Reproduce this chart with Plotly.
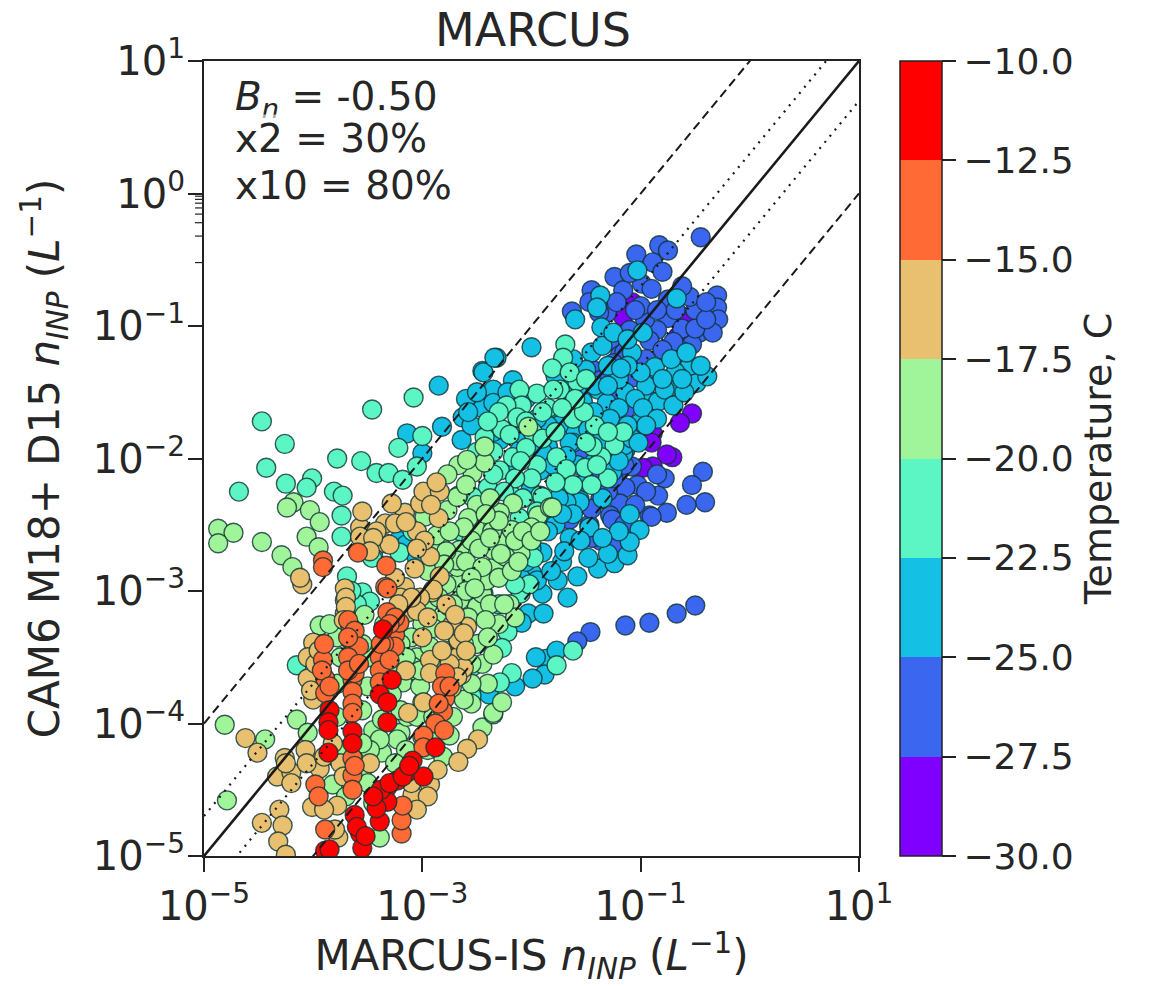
import math
import plotly.graph_objects as go

# Values, as log10 of n_INP (L^-1)
bin_temps = [-28.75, -26.25, -23.75, -21.25, -18.75, -16.25, -13.75, -11.25]
level_edges = [-30, -27.5, -25, -22.5, -20, -17.5, -15, -12.5, -10]
level_colors = ["#7f00ff", "#3a66f0", "#14c0e4", "#5cf5c4", "#a0f59a", "#e8c070", "#ff6a35", "#ff0000"]
x_ticks = [1e-5, 1e-3, 1e-1, 1e1]
x_labels = ["10<sup>\u22125</sup>", "10<sup>\u22123</sup>", "10<sup>\u22121</sup>", "10<sup>1</sup>"]
y_ticks = [1e-5, 1e-4, 1e-3, 1e-2, 1e-1, 1, 10]
y_labels = ["10<sup>\u22125</sup>", "10<sup>\u22124</sup>", "10<sup>\u22123</sup>", "10<sup>\u22122</sup>", "10<sup>\u22121</sup>", "10<sup>0</sup>", "10<sup>1</sup>"]
y_minor = [m * d for d in [1e-5, 1e-4, 1e-3, 1e-2, 1e-1, 1] for m in [2, 3, 4, 5, 6, 7, 8, 9]]

lx_purple = [-1.08,-1.16,-0.61,-0.57,-0.66,-0.53,-0.64,-0.89,-0.90,-0.71,-0.76,-0.89,-0.98]
ly_purple = [-0.82,-0.93,-0.93,-0.97,-1.08,-1.66,-1.73,-1.81,-1.88,-1.99,-1.97,-2.06,-2.07]

lx_blue = [-0.45,-0.83,-0.75,-1.04,-0.89,-0.80,-1.24,-0.99,-1.45,-1.16,-1.63,-0.30,-0.30,-0.50,-0.29,-0.46,-0.34,-0.53,-0.75,-0.85,-0.76,-1.31,-1.47,-1.22,-0.99,-1.08,-1.44,-0.96,-1.10,-0.92,-0.64,-1.28,-1.19,-1.37,-1.26,-1.14,
           -0.43,-0.53,-0.41,-0.58,-0.78,-0.84,-1.03,-1.14,-1.19,-0.92,-1.28,-0.76,-1.08,-0.90,-1.24,-1.26,-1.65,-1.37,-1.47,-1.37,-1.56,-1.19,-1.37,-1.14,
           -0.50,-0.67,-0.92,-1.14,-1.46,-1.58,
           -1.00,-0.90,-1.10,-0.75,-0.55,-0.62,-0.70,-0.50,-0.80,-0.95,-1.15,-1.25,-0.88,-1.30,-1.15,-1.25,-0.95,-1.45,-1.55,-1.05,-1.15,-1.45,-0.85,-1.40,-1.25,-1.55,
           -1.38,-1.05,-0.68,-0.85,-0.62,-0.40,-0.40]
ly_blue = [-0.33,-0.39,-0.43,-0.46,-0.52,-0.59,-0.63,-0.68,-0.73,-0.73,-0.89,-0.77,-0.86,-0.88,-0.95,-1.05,-1.05,-1.14,-0.94,-1.03,-1.20,-0.90,-0.82,-0.82,-1.29,-1.39,-1.33,-0.95,-1.03,-1.11,-1.18,-1.11,-1.22,-1.41,-1.52,-1.63,
           -2.10,-2.20,-2.33,-2.35,-2.15,-2.28,-2.20,-2.22,-2.34,-2.43,-2.43,-2.41,-2.06,-2.44,-2.64,-2.46,-2.46,-2.31,-2.50,-2.09,-2.35,-2.09,-2.62,-1.94,
           -3.11,-3.17,-3.24,-3.26,-3.31,-3.38,
           -0.85,-0.72,-0.60,-0.80,-0.78,-1.02,-1.12,-1.02,-1.18,-1.25,-1.20,-1.28,-1.38,-2.25,-2.05,-2.15,-2.25,-2.38,-2.20,-2.35,-2.50,-2.60,-2.12,-1.95,-1.95,-2.00,
           -0.90,-0.88,-0.88,-0.88,-0.70,-0.95,-0.82]

lx_cyan = [-2.00,-2.32,-2.45,-1.60,-2.64,-2.63,-2.45,-2.35,-2.17,-0.67,-1.03,-1.37,-1.40,-1.36,-1.45,-1.08,-0.62,-0.64,-0.75,-0.87,-0.49,-0.39,-0.92,-0.84,-1.01,-1.14,-1.39,-1.53,-1.31,-1.79,-1.60,-1.85,-1.62,-1.26,-1.16,-1.56,-1.68,
           -1.90,-1.67,-1.76,-1.58,-1.39,-1.24,-1.12,-1.01,-1.10,-1.47,-1.65,-1.72,-2.00,-1.90,-2.03,-1.89,-2.09,-1.56,-1.68,
           -1.86,-1.96,-1.77,-1.88,-1.99,-2.15,-2.39,
           -2.85,-2.44,-2.34,-2.82,-2.45,-3.14,-3.00,-3.22,
           -2.20,-2.01,-2.11,-1.92,-1.74,-2.29,
           -1.20,-1.30,-1.50,-1.62,-1.35,-1.25,-1.12,-0.98,-0.95,-1.05,-1.20,-1.28,-1.43,-1.48,-1.38,-1.15,-1.08,-0.98,-0.85,-0.78,-0.70,-0.60,-1.70,-1.78,-1.65,-1.75,-1.85,-1.95,-2.05,-2.12,-2.35,-2.55,
           -1.42,-1.58,-1.50,-1.35,-1.75,-1.85,-1.78,-1.55,-1.85,-1.70,-2.00,-2.10,-1.95,-1.82,-1.48,-1.30,-1.20,-1.35,-1.10,-3.05,-3.15,
           -0.55,-0.68,-0.80,-0.72,-1.00,-1.12,-0.58,-0.45,-0.62,-0.95,-1.12,-1.55,-1.42,-1.30,-1.18,-1.02,-1.20,-1.90,-2.08,-1.68,-1.80,-2.60,-2.50,-2.35,-2.22,-2.58,-1.62,-1.72,-1.95,-2.05]
ly_cyan = [-1.16,-1.24,-1.34,-0.95,-1.86,-1.69,-1.61,-1.48,-1.41,-0.79,-0.58,-0.77,-0.86,-1.01,-1.20,-1.20,-1.27,-1.38,-1.47,-1.31,-1.43,-1.38,-1.56,-1.57,-1.73,-1.50,-1.48,-1.57,-1.58,-1.65,-1.78,-1.91,-1.88,-2.10,-1.96,-2.31,-2.26,
           -3.02,-3.05,-2.92,-2.89,-2.83,-2.79,-2.73,-2.54,-2.63,-2.52,-2.60,-2.78,-2.86,-2.71,-3.17,-3.17,-3.24,-2.33,-2.33,
           -3.51,-3.50,-3.45,-3.63,-3.66,-3.72,-3.78,
           -1.45,-1.35,-1.24,-1.76,-1.62,-1.81,-1.96,-2.62,
           -2.09,-2.24,-1.94,-2.09,-2.09,-1.86,
           -1.40,-1.30,-1.33,-1.25,-1.15,-1.05,-1.10,-1.05,-1.45,-1.55,-1.62,-1.70,-1.65,-1.78,-1.88,-1.90,-1.85,-1.62,-1.70,-1.48,-1.60,-1.50,-1.48,-1.38,-1.88,-1.75,-1.75,-1.70,-1.55,-1.72,-1.80,-1.75,
           -2.02,-2.05,-2.18,-2.30,-2.30,-2.42,-2.50,-2.62,-2.55,-2.70,-2.68,-2.90,-2.92,-2.85,-2.75,-2.72,-2.55,-2.60,-2.42,-2.75,-2.65,
           -1.30,-1.35,-1.40,-1.25,-1.35,-1.30,-1.20,-1.30,-1.40,-1.75,-1.75,-1.45,-1.45,-1.45,-1.32,-1.88,-2.02,-1.95,-1.82,-1.98,-2.05,-1.55,-1.50,-1.58,-1.50,-1.65,-2.42,-2.42,-2.50,-2.78]

lx_teal = [-4.47,-4.26,-4.43,-4.68,-4.25,-4.01,-4.06,-3.81,-3.73,-3.74,-3.74,-3.78,-3.56,-3.42,-3.31,-3.46,-3.08,-3.22,-3.00,-3.05,-3.18,-3.09,-3.45,-3.69,-3.55,-3.48,-4.15,-3.21,-3.46,
           -1.69,-1.71,-1.81,-1.58,-1.95,-1.74,-2.11,-2.09,-2.23,-2.13,-2.27,-1.99,-2.43,-2.17,-2.41,-2.29,-2.40,-2.54,-1.24,-1.36,-1.16,-1.51,-1.77,-1.44,-1.92,
           -1.90,-2.18,-2.11,-2.22,-2.27,-2.54,-2.18,-2.29,-2.55,-1.62,-1.77,
           -2.35,-2.05,-1.90,-1.85,-1.78,-1.62,-1.50,-1.42,-1.30,-1.52,-1.68,-1.30,-1.45,-1.62,-1.78,-1.95,-2.00,-2.08,-1.95,-2.35,-2.15,-2.25,-2.05,-1.90,-1.80,-1.65,-1.50,-2.20,-2.10,-1.60,-1.72,-2.30,-2.40,-2.50,-2.55,-1.40,-2.65,
           -2.10,-2.02,-2.15,-1.98,-2.30,-3.60,-3.65]
ly_teal = [-1.72,-1.89,-2.07,-2.25,-2.19,-2.15,-2.22,-2.25,-2.28,-2.43,-2.59,-2.00,-2.02,-2.11,-2.11,-1.63,-1.54,-1.92,-1.83,-2.06,-2.16,-2.55,-2.74,-2.89,-3.01,-3.08,-3.56,-2.71,-2.75,
           -1.14,-1.24,-1.32,-1.42,-1.51,-1.48,-1.48,-1.60,-1.60,-1.69,-1.78,-1.80,-1.84,-1.99,-1.94,-2.09,-2.22,-2.29,-1.90,-1.99,-1.80,-2.07,-1.99,-1.91,-2.28,
           -2.29,-2.28,-2.45,-3.31,-3.43,-3.57,-3.62,-3.69,-3.79,-3.45,-3.56,
           -1.95,-1.92,-1.85,-1.62,-1.80,-1.70,-1.88,-1.75,-1.80,-1.65,-2.08,-2.15,-2.20,-2.20,-2.18,-2.05,-2.15,-2.30,-2.40,-2.12,-2.15,-2.25,-1.72,-1.65,-1.48,-1.35,-1.40,-1.82,-2.02,-1.55,-1.62,-1.65,-1.72,-1.95,-2.05,-2.05,-2.55,
           -3.02,-2.95,-2.95,-2.75,-3.10,-3.10,-3.00]

lx_green = [-4.87,-4.73,-4.87,-4.47,-4.29,-4.19,-4.18,-4.24,-4.03,-3.94,-4.06,-3.95,-3.94,-4.81,-4.79,-4.44,-4.15,-3.82,-4.05,-3.39,-3.45,-3.20,-3.14,-3.10,-3.18,-3.37,-3.23,-3.39,-3.00,-2.84,-2.81,-2.75,-2.45,-2.35,-3.37,-3.05,-2.93,-3.09,-3.02,-3.53,
            -2.50,-2.84,-2.87,-2.68,-2.49,-2.34,-2.44,-2.35,-2.68,-2.66,-2.77,-2.98,-2.84,-2.66,-2.54,-2.67,-2.67,-2.77,-2.43,-2.43,-2.47,-2.87,-2.68,-2.35,
            -2.68,-2.59,-2.03,-2.17,-1.94,-1.83,-2.29,-1.81,-2.00,-2.10,-2.26,-2.24,-2.45,-2.41,-2.36,-2.18,-2.35,-2.27,
            -2.60,-2.50,-2.58,-2.38,-2.30,-2.42,-2.55,-2.62,-2.75,-2.78,-2.60,-2.48,-2.38,-2.28,-2.15,-2.08,-2.00,-1.92,-2.45,-2.55,-2.38,-2.30,-2.18,-2.12,-2.78,-2.60,-2.75,-2.58,-2.95,-3.00,-2.90,-3.10,-2.52,
            -3.20,-3.25,-3.28,-3.50,-3.50,-3.55,-3.48,-3.20,-3.15,-3.05,-3.00,-2.90,-2.95,-3.55,-3.45,-3.75,-3.78,-3.78,-3.55,-2.72,-2.55,-2.62,-2.45,-2.40,-2.50,-2.35,-2.30,-2.42,-2.20,-2.15,
            -2.95,-2.80,-2.72,-2.85,-3.25,-3.35,-3.15,-3.02,-2.85,-2.75,-2.62,-2.55,-2.55,-2.72,-2.40,-2.25,-3.78,-3.85,-3.80,-3.70,-3.50,-3.25,-3.55,-3.70]
ly_green = [-2.53,-2.56,-2.64,-2.63,-2.73,-2.82,-2.33,-2.37,-2.39,-2.48,-2.59,-2.67,-3.26,-4.01,-4.58,-4.12,-3.97,-4.46,-4.07,-4.86,-4.05,-4.07,-3.95,-3.60,-3.69,-4.22,-4.12,-4.12,-3.84,-4.07,-4.25,-4.09,-4.03,-3.93,-3.97,-3.50,-3.42,-3.57,-3.72,-3.18,
            -3.12,-3.20,-3.01,-2.94,-2.54,-2.82,-3.02,-2.69,-2.82,-2.69,-2.39,-2.44,-2.64,-3.07,-2.11,-2.05,-2.28,-2.12,-2.03,-1.91,-2.55,-2.58,-2.77,-2.49,
            -2.29,-2.01,-1.76,-2.34,-2.43,-2.37,-2.41,-2.37,-2.52,-2.72,-2.63,-2.74,-3.02,-2.92,-2.55,-2.54,-3.92,-3.84,
            -2.20,-2.35,-2.45,-2.30,-2.47,-2.42,-2.62,-2.52,-2.55,-2.70,-2.78,-2.68,-2.60,-2.72,-2.62,-2.55,-2.62,-2.55,-2.82,-2.90,-3.10,-2.90,-2.85,-2.78,-2.95,-3.00,-3.12,-3.20,-3.10,-3.25,-3.28,-3.35,-2.98,
            -3.40,-3.55,-3.78,-3.50,-3.72,-3.90,-4.20,-3.90,-4.20,-3.95,-4.10,-3.95,-4.20,-4.35,-4.60,-3.50,-3.70,-3.95,-3.40,-3.95,-3.85,-3.82,-3.55,-3.70,-3.40,-3.48,-3.25,-3.22,-3.10,-3.20,
            -2.85,-2.80,-3.10,-3.05,-3.15,-3.25,-3.50,-3.60,-3.60,-3.45,-3.40,-3.55,-3.70,-3.60,-3.35,-3.10,-3.35,-3.25,-4.25,-4.20,-4.45,-4.30,-4.15,-4.55]

lx_tan = [-4.10,-4.12,-4.00,-4.05,-4.00,-4.62,-4.51,-4.26,-4.33,-4.20,-4.07,-3.94,-4.06,-4.01,-3.78,-4.47,-4.31,-4.28,-4.32,-4.25,-3.77,
          -3.71,-3.71,-3.71,-3.34,-3.16,-3.02,-2.99,-2.84,-2.87,-3.28,-3.57,-3.57,-3.34,-3.25,-2.93,-3.07,-3.16,-2.91,-3.13,-2.84,
          -2.59,-2.72,-2.67,-2.68,-2.64,-2.73,-2.93,-2.93,-2.99,-3.13,-3.48,-3.09,-2.93,-2.86,-2.49,-2.59,-2.67,-2.90,-2.67,-2.73,
          -3.55,-3.42,-3.30,-3.05,-3.15,-2.98,-3.05,-2.85,-2.92,-3.20,-3.02,-3.05,-2.95,-3.00,-3.15,-4.05,-3.98,-3.70,-3.70,-3.72,-3.90,-3.75,-3.82,-4.20,-3.90,-3.80,-3.10,-2.95,-3.05,-3.72,-4.25,
          -2.78,-2.70,-2.62,-2.80,-2.62,-2.75,-2.60,-2.68,-2.82,-3.10,-3.25,-3.45,-3.48,-3.22,-3.95,-4.02]
ly_tan = [-2.95,-2.90,-3.39,-3.66,-3.82,-4.11,-4.22,-4.26,-4.40,-4.37,-4.20,-4.34,-4.30,-4.63,-4.62,-4.75,-4.65,-4.77,-4.89,-4.99,-4.86,
          -2.98,-3.07,-3.17,-2.49,-2.41,-2.34,-2.25,-2.25,-2.18,-2.34,-2.52,-2.59,-2.64,-2.49,-2.74,-2.83,-2.97,-3.01,-3.16,-2.89,
          -3.27,-3.27,-3.38,-3.50,-3.63,-3.73,-3.52,-3.62,-3.84,-3.92,-4.30,-4.54,-4.46,-4.35,-4.12,-4.19,-4.29,-2.99,-3.37,-3.26,
          -2.40,-2.55,-2.65,-2.55,-2.48,-2.62,-2.68,-2.45,-2.35,-3.05,-3.05,-3.15,-3.20,-3.35,-3.60,-3.50,-3.55,-3.05,-3.12,-3.22,-4.25,-4.30,-4.15,-4.45,-4.65,-4.80,-4.45,-4.55,-4.65,-4.40,-4.30,
          -3.10,-3.18,-3.32,-3.30,-3.58,-3.55,-3.45,-3.65,-3.45,-3.05,-2.90,-2.60,-2.70,-3.10,-3.45,-3.75]

lx_orange = [-3.91,-3.91,-3.59,-3.33,-3.34,-3.32,-3.32,-3.25,-3.25,-3.39,-3.39,-3.39,-3.91,-3.89,-3.89,
             -3.66,-3.66,-3.64,-3.64,-3.64,-3.64,-3.64,-3.64,-3.64,-3.64,-3.64,
             -2.79,-2.79,-2.81,-2.88,-2.99,-2.99,-3.98,-3.89,-3.19,-3.19,-3.21,
             -3.68,-3.62,-3.58,-3.68,-3.62,-3.35,-3.30,-3.38,-3.25,-3.30,-3.92,-3.85,-2.82,-2.75,-2.85,-2.80,-3.62,-3.18,-3.95,
             -3.90,-3.68,-3.68,-3.58]
ly_orange = [-2.77,-2.82,-2.71,-2.81,-2.97,-2.98,-3.16,-3.33,-3.42,-3.50,-3.60,-3.69,-3.52,-3.66,-3.77,
             -3.27,-3.37,-3.47,-3.57,-3.67,-3.76,-3.85,-3.92,-4.26,-4.39,-4.50,
             -3.62,-3.81,-3.91,-4.00,-4.09,-4.18,-4.46,-4.80,-4.83,-4.73,-3.24,
             -3.22,-3.30,-3.42,-3.50,-3.62,-3.40,-3.52,-3.40,-3.20,-3.25,-3.60,-3.72,-3.72,-3.72,-3.85,-4.05,-4.32,-4.62,-4.55,
             -3.40,-3.35,-3.60,-3.55]

lx_red = [-3.85,-3.86,-3.86,-3.86,-3.64,-3.64,-3.62,-3.57,-3.55,-3.89,-3.28,-3.39,-3.32,-3.32,-3.36,-2.88,-3.14,-2.99,-3.32,-3.39,-3.32,-3.39,-3.42,-3.23,-3.09,
          -3.60,-3.52,-3.38,-3.45,-3.30,-3.18,-3.12,-3.85]
ly_red = [-3.90,-3.99,-4.05,-4.22,-4.06,-4.15,-4.69,-4.83,-4.94,-4.96,-3.67,-3.78,-3.84,-3.99,-3.29,-4.18,-4.37,-4.40,-4.48,-4.55,-4.59,-4.74,-4.64,-4.43,-4.28,
          -4.78,-4.85,-4.50,-4.55,-4.45,-4.40,-4.32,-4.95]

all_lx = [lx_purple, lx_blue, lx_cyan, lx_teal, lx_green, lx_tan, lx_orange, lx_red]
all_ly = [ly_purple, ly_blue, ly_cyan, ly_teal, ly_green, ly_tan, ly_orange, ly_red]

ref_x = [1e-5, 10]
ref_lines = [(1, "solid", 2.6), (2, "2px,6px", 2.2), (0.5, "2px,6px", 2.2), (10, "9px,5px", 2), (0.1, "9px,5px", 2)]
stat_lines = ["<i>B</i><sub><i>n</i></sub> = -0.50", "x2 = 30%", "x10 = 80%"]

xs, ys, cs = [], [], []
for t, lx, ly in zip(bin_temps, all_lx, all_ly):
    xs += [10 ** v for v in lx]
    ys += [10 ** v for v in ly]
    cs += [t] * len(lx)

scale = []
n = len(level_colors)
for i, c in enumerate(level_colors):
    scale += [[i / n, c], [(i + 1) / n, c]]

TXT = "#262626"
fig = go.Figure()
fig.add_trace(go.Scatter(
    x=xs, y=ys, mode="markers", showlegend=False,
    marker=dict(
        size=19, color=cs, cmin=-30, cmax=-10, colorscale=scale,
        line=dict(color="rgba(15,50,50,0.8)", width=1.4),
        colorbar=dict(
            x=1.0626, xanchor="left", y=0.5, yanchor="middle", len=1, lenmode="fraction",
            thickness=42, xpad=0, ypad=0, outlinewidth=1.5, outlinecolor="#222",
            tickmode="array", tickvals=level_edges, ticktext=[f"\u2212{abs(v):.1f}" for v in level_edges],
            ticks="outside", ticklen=14, tickwidth=1.5, tickcolor="#222",
            tickfont=dict(family="DejaVu Sans", size=36, color=TXT),
            title=dict(text="Temperature, C", side="right", font=dict(family="DejaVu Sans", size=38, color=TXT)),
        ),
    ),
))
for f, dash, w in ref_lines:
    fig.add_trace(go.Scatter(x=ref_x, y=[v * f for v in ref_x], mode="lines", showlegend=False,
                             line=dict(color="#1a1a1a", dash=dash, width=w)))

fig.update_xaxes(
    type="log", range=[-5, 1], tickmode="array", tickvals=x_ticks, ticktext=x_labels,
    showgrid=False, zeroline=False, showline=True, linecolor="#222", linewidth=2, mirror=True,
    ticks="outside", ticklen=14, tickwidth=1.5, tickcolor="#222",
    tickfont=dict(family="DejaVu Sans", size=40, color=TXT),
    title=dict(text="MARCUS-IS <i>n</i><sub><i>INP</i></sub> (<i>L</i><sup>\u22121</sup>)",
               font=dict(family="DejaVu Sans", size=42, color=TXT), standoff=8),
)
fig.update_yaxes(
    type="log", range=[-5, 1], tickmode="array", tickvals=y_ticks, ticktext=y_labels,
    showgrid=False, zeroline=False, showline=True, linecolor="#222", linewidth=2, mirror=True,
    ticks="outside", ticklen=14, tickwidth=1.5, tickcolor="#222", ticklabelstandoff=-5,
    tickfont=dict(family="DejaVu Sans", size=40, color=TXT),
    title=dict(text="CAM6 M18+ D15 <i>n</i><sub><i>INP</i></sub> (<i>L</i><sup>\u22121</sup>)",
               font=dict(family="DejaVu Sans", size=42, color=TXT), standoff=20),
)
# Short minor ticks on the y axis (shape positions on a log axis are given as log10)
for v in y_minor:
    fig.add_shape(type="line", xref="paper", yref="y", x0=-9/655, x1=0, y0=math.log10(v), y1=math.log10(v),
                  line=dict(color="#222", width=1.2), layer="above")
for s, yp in zip(stat_lines, [0.952, 0.902, 0.844]):
    fig.add_annotation(text=s, xref="paper", yref="paper", x=0.045, y=yp, xanchor="left", yanchor="middle",
                       showarrow=False, bgcolor="rgba(255,255,255,0.6)",
                       font=dict(family="DejaVu Sans", size=39, color=TXT))
fig.update_layout(
    width=1151, height=986, autosize=False, paper_bgcolor="white", plot_bgcolor="white",
    margin=dict(l=204, r=292, t=61, b=130, pad=0),
    title=dict(text="MARCUS", x=533/1151, xanchor="center", y=1-30/986, yanchor="middle",
               font=dict(family="DejaVu Sans", size=46, color=TXT)),
)
fig.write_html("out.html", config={"displayModeBar": False},
               post_script="document.body.style.margin='0';document.documentElement.style.overflow='hidden';")
